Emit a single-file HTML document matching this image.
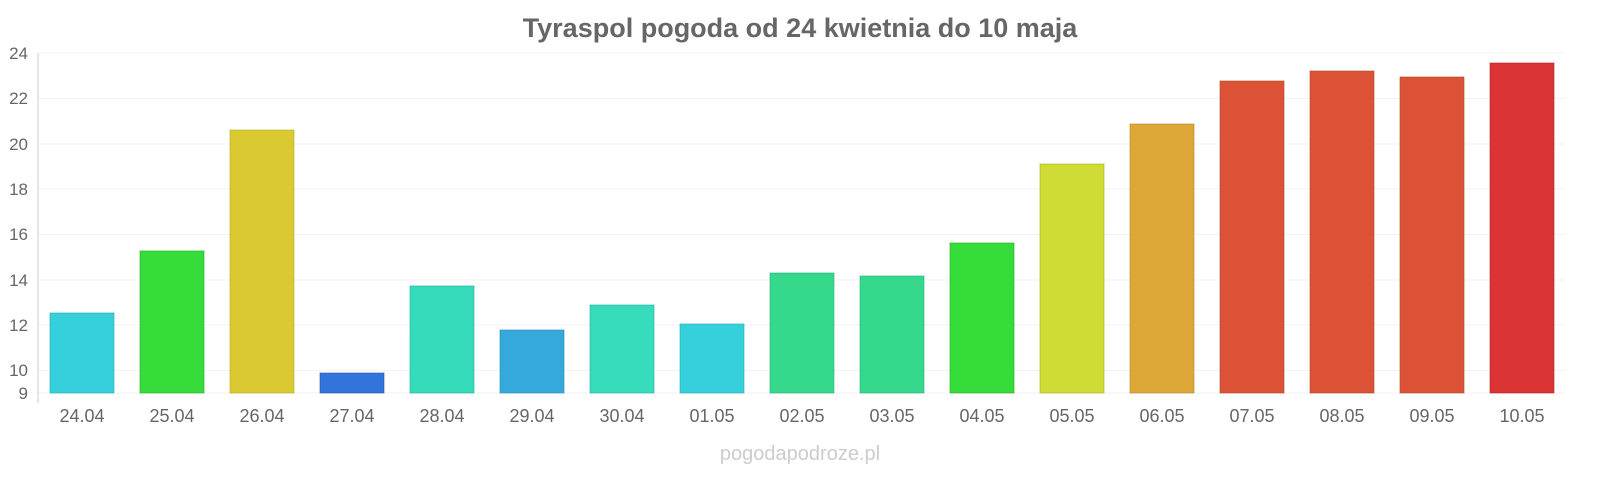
<!DOCTYPE html>
<html><head><meta charset="utf-8"><style>
body{margin:0;background:#fff;width:1600px;height:480px;overflow:hidden;font-family:"Liberation Sans",sans-serif}
</style></head><body>
<svg width="1600" height="480" xmlns="http://www.w3.org/2000/svg" font-family="Liberation Sans, sans-serif">
<text x="800" y="37" text-anchor="middle" font-size="27" font-weight="bold" fill="#666">Tyraspol pogoda od 24 kwietnia do 10 maja</text>
<g stroke="#f2f2f2" stroke-width="1">
<line x1="38" x2="1565" y1="53" y2="53"/><line x1="38" x2="1565" y1="98.5" y2="98.5"/>
<line x1="38" x2="1565" y1="144" y2="144"/><line x1="38" x2="1565" y1="189" y2="189"/>
<line x1="38" x2="1565" y1="234.5" y2="234.5"/><line x1="38" x2="1565" y1="280" y2="280"/>
<line x1="38" x2="1565" y1="325" y2="325"/><line x1="38" x2="1565" y1="370.5" y2="370.5"/>
<line x1="38" x2="1565" y1="393" y2="393"/>
</g>
<line x1="38" x2="38" y1="53" y2="403" stroke="#ccc"/>
<g font-size="17" fill="#666" text-anchor="end">
<text x="28" y="59">24</text><text x="28" y="104">22</text><text x="28" y="150">20</text>
<text x="28" y="195">18</text><text x="28" y="240">16</text><text x="28" y="286">14</text>
<text x="28" y="331">12</text><text x="28" y="376">10</text><text x="28" y="399">9</text>
</g>
<g stroke-width="1" stroke-opacity="0.6">
<rect x="50" y="313" width="64" height="80" fill="#36cfdc" stroke="#2aa"/>
<rect x="140" y="251" width="64" height="142" fill="#36dc3a" stroke="#2a2"/>
<rect x="230" y="130" width="64" height="263" fill="#dbc932" stroke="#aa2"/>
<rect x="320" y="373" width="64" height="20" fill="#3273dc" stroke="#25a"/>
<rect x="410" y="286" width="64" height="107" fill="#36dbbb" stroke="#2a9"/>
<rect x="500" y="330" width="64" height="63" fill="#36a9dc" stroke="#28a"/>
<rect x="590" y="305" width="64" height="88" fill="#36dcbc" stroke="#2a9"/>
<rect x="680" y="324" width="64" height="69" fill="#36d0dc" stroke="#2aa"/>
<rect x="770" y="273" width="64" height="120" fill="#36d98b" stroke="#2a7"/>
<rect x="860" y="276" width="64" height="117" fill="#36d98b" stroke="#2a7"/>
<rect x="950" y="243" width="64" height="150" fill="#36dc3a" stroke="#2a2"/>
<rect x="1040" y="164" width="64" height="229" fill="#d0dc36" stroke="#aa2"/>
<rect x="1130" y="124" width="64" height="269" fill="#dca736" stroke="#a82"/>
<rect x="1220" y="81" width="64" height="312" fill="#dc5236" stroke="#a42"/>
<rect x="1310" y="71" width="64" height="322" fill="#dc5236" stroke="#a42"/>
<rect x="1400" y="77" width="64" height="316" fill="#dc5236" stroke="#a42"/>
<rect x="1490" y="63" width="64" height="330" fill="#db3434" stroke="#a22"/>
</g>
<g font-size="18" fill="#666" text-anchor="middle">
<text x="82" y="422">24.04</text><text x="172" y="422">25.04</text><text x="262" y="422">26.04</text>
<text x="352" y="422">27.04</text><text x="442" y="422">28.04</text><text x="532" y="422">29.04</text>
<text x="622" y="422">30.04</text><text x="712" y="422">01.05</text><text x="802" y="422">02.05</text>
<text x="892" y="422">03.05</text><text x="982" y="422">04.05</text><text x="1072" y="422">05.05</text>
<text x="1162" y="422">06.05</text><text x="1252" y="422">07.05</text><text x="1342" y="422">08.05</text>
<text x="1432" y="422">09.05</text><text x="1522" y="422">10.05</text>
</g>
<text x="800" y="460" text-anchor="middle" font-size="20" fill="#ccc">pogodapodroze.pl</text>
</svg>
</body></html>
